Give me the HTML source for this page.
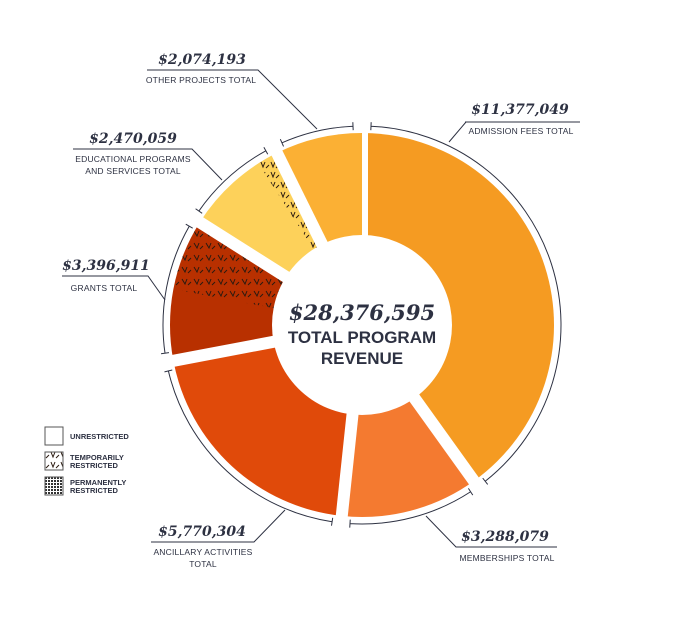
<!DOCTYPE html>
<html><head><meta charset="utf-8"><style>
html,body{margin:0;padding:0;background:#fff;}
svg{display:block;}
.val{font-family:"DejaVu Serif","Liberation Serif",serif;font-weight:bold;font-style:italic;font-size:14px;fill:#2d3142;}
.lab{font-family:"Liberation Sans",sans-serif;font-size:8.5px;fill:#2d3142;letter-spacing:0.2px;}
.leg{font-family:"Liberation Sans",sans-serif;font-size:7.5px;font-weight:bold;fill:#2d3142;}
</style></head><body>
<svg id="chart" width="681" height="639" viewBox="0 0 681 639">
<defs>
<pattern id="tmp" width="12" height="12" patternUnits="userSpaceOnUse">
<path d="M2 3 L5 8 L7 3 M8 9 L11 6" stroke="#2b1a10" stroke-width="1" fill="none"/>
</pattern>
<pattern id="tmp2" width="10" height="10" patternUnits="userSpaceOnUse">
<path d="M1 2 L3 7 L5 2 M6 8 L9 5" stroke="#2b1a10" stroke-width="1" fill="none"/>
</pattern>
<pattern id="dots" width="3" height="3" patternUnits="userSpaceOnUse">
<rect width="3" height="3" fill="#fff"/><rect width="2" height="2" fill="#333"/>
</pattern>
</defs>
<g id="segs"></g>
<g id="brackets"></g>
<circle cx="362" cy="325" r="90" fill="#fff"/>
<text x="362" y="320" text-anchor="middle" class="val" style="font-size:21px">$28,376,595</text>
<text x="362" y="343" text-anchor="middle" font-family="Liberation Sans" font-weight="bold" font-size="17" fill="#2d3142">TOTAL PROGRAM</text>
<text x="362" y="364" text-anchor="middle" font-family="Liberation Sans" font-weight="bold" font-size="17" fill="#2d3142">REVENUE</text>

<g stroke="#2d3142" stroke-width="1" fill="none">
<path d="M147 70 L258 70 L317 129"/>
<path d="M465 122 L580 122 M466 122 L449 142"/>
<path d="M73 149 L192 149 L222 180"/>
<path d="M62 276 L148 276 L165 300"/>
<path d="M151 542 L254 542 L285 510"/>
<path d="M557 547 L456 547 L426 516"/>
</g>
<g>
<text x="202" y="64" text-anchor="middle" class="val">$2,074,193</text>
<text x="201" y="83" text-anchor="middle" class="lab">OTHER PROJECTS TOTAL</text>
<text x="520" y="114" text-anchor="middle" class="val">$11,377,049</text>
<text x="521" y="134" text-anchor="middle" class="lab">ADMISSION FEES TOTAL</text>
<text x="133" y="143" text-anchor="middle" class="val">$2,470,059</text>
<text x="133" y="162" text-anchor="middle" class="lab">EDUCATIONAL PROGRAMS</text>
<text x="133" y="174" text-anchor="middle" class="lab">AND SERVICES TOTAL</text>
<text x="106" y="270" text-anchor="middle" class="val">$3,396,911</text>
<text x="104" y="291" text-anchor="middle" class="lab">GRANTS TOTAL</text>
<text x="202" y="536" text-anchor="middle" class="val">$5,770,304</text>
<text x="203" y="555" text-anchor="middle" class="lab">ANCILLARY ACTIVITIES</text>
<text x="203" y="567" text-anchor="middle" class="lab">TOTAL</text>
<text x="505" y="541" text-anchor="middle" class="val">$3,288,079</text>
<text x="507" y="561" text-anchor="middle" class="lab">MEMBERSHIPS TOTAL</text>
</g>
<g>
<rect x="45" y="427" width="18" height="18" fill="#fff" stroke="#555"/>
<text x="70" y="439" class="leg">UNRESTRICTED</text>
<rect x="45" y="452" width="18" height="18" fill="url(#tmp2)" stroke="#555"/>
<text x="70" y="460" class="leg">TEMPORARILY</text>
<text x="70" y="468" class="leg">RESTRICTED</text>
<rect x="45" y="477" width="18" height="18" fill="url(#dots)" stroke="#555"/>
<text x="70" y="485" class="leg">PERMANENTLY</text>
<text x="70" y="493" class="leg">RESTRICTED</text>
</g>
</svg>
<script>
const categories=["admission","memberships","ancillary","grants","educational","other"];
const values=[11377049,3288079,5770304,3396911,2470059,2074193];
const restricted=[0,0,0,1700000,500000,0];
const colors=["#F59B22","#F47A30","#E04A0A","#B83000","#FDD15A","#FBB034"];
const CX=362,CY=325,R=192,RI=90,RB=199,GAP=6;
const total=values.reduce((a,b)=>a+b,0);
const ang=v=>v/total*2*Math.PI;
function pt(r,a){return [CX+r*Math.sin(a),CY-r*Math.cos(a)];}
function sector(r0,r1,a0,a1){
  const la=(a1-a0)>Math.PI?1:0;
  const p0=pt(r1,a0),p1=pt(r1,a1),p2=pt(r0,a1),p3=pt(r0,a0);
  return `M${p0} A${r1} ${r1} 0 ${la} 1 ${p1} L${p2} A${r0} ${r0} 0 ${la} 0 ${p3}Z`;
}
const ns="http://www.w3.org/2000/svg";
const segs=document.getElementById('segs'),br=document.getElementById('brackets');
let a=0;
values.forEach((v,i)=>{
  const a0=a,a1=a+ang(v);a=a1;
  const p=document.createElementNS(ns,'path');
  p.setAttribute('d',sector(0,R,a0,a1));
  p.setAttribute('fill',colors[i]);
  
  
  segs.appendChild(p);
  if(restricted[i]>0){
    const q=document.createElementNS(ns,'path');
    q.setAttribute('d',sector(0,R,a1-ang(restricted[i]),a1));
    q.setAttribute('fill',i==3?'url(#tmp)':'url(#tmp2)');
    
    
    segs.appendChild(q);
  }
  const e=pt(R+2,a0);
  const g=document.createElementNS(ns,'line');
  g.setAttribute('x1',CX);g.setAttribute('y1',CY);g.setAttribute('x2',e[0]);g.setAttribute('y2',e[1]);
  g.setAttribute('stroke','#fff');g.setAttribute('stroke-width',GAP*2);
  
  
  segs.appendChild(g);
  const d=9/RB, b0=a0+d, b1=a1-d;
  const s0=pt(RB,b0),s1=pt(RB,b1);
  const t0a=pt(RB-4,b0),t0b=pt(RB+4,b0),t1a=pt(RB-4,b1),t1b=pt(RB+4,b1);
  const bp=document.createElementNS(ns,'path');
  bp.setAttribute('d',`M${s0} A${RB} ${RB} 0 ${(b1-b0)>Math.PI?1:0} 1 ${s1} M${t0a} L${t0b} M${t1a} L${t1b}`);
  bp.setAttribute('stroke','#2d3142');bp.setAttribute('fill','none');bp.setAttribute('stroke-width','1');
  
  
  br.appendChild(bp);
});
</script>
</body></html>
